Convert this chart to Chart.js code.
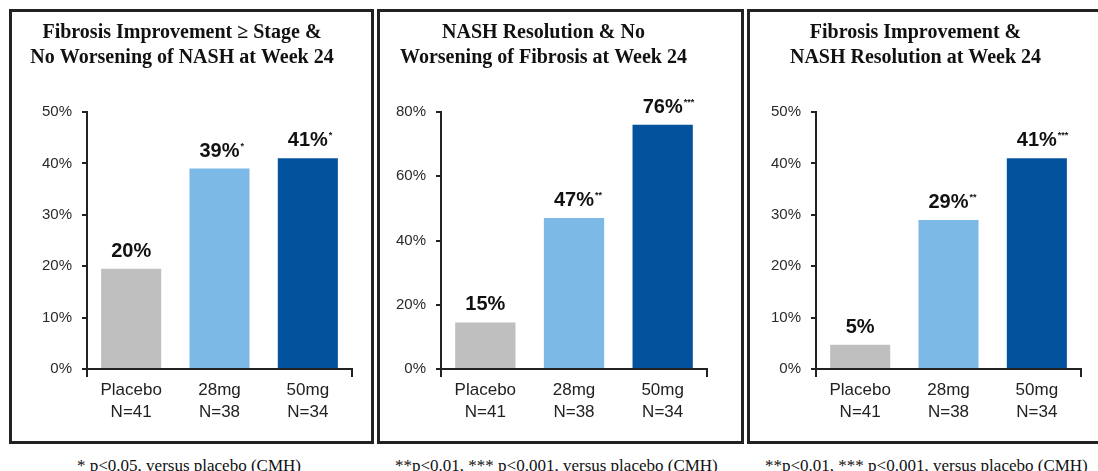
<!DOCTYPE html>
<html>
<head>
<meta charset="utf-8">
<script src="https://cdn.jsdelivr.net/npm/chart.js@4"></script>
<style>
  html, body { margin: 0; padding: 0; background: #fff; width: 1098px; height: 471px; overflow: hidden; position: relative; }
  .panel { position: absolute; border: 3px solid #222; box-sizing: border-box; background: #fff; }
  .panel canvas { display: block; }
  .foot { position: absolute; font-family: "Liberation Serif", "Times New Roman", serif; font-size: 17px; line-height: 20px; color: #111; white-space: nowrap; }
</style>
</head>
<body>
<div class="panel" id="p1" style="left:9px; top:9px; width:365px; height:435px;"><canvas id="c1"></canvas></div>
<div class="panel" id="p2" style="left:377px; top:9px; width:367px; height:435px;"><canvas id="c2"></canvas></div>
<div class="panel" id="p3" style="left:747px; top:9px; width:356px; height:435px;"><canvas id="c3"></canvas></div>
<div class="foot" style="left:77px; top:456px;">* p&lt;0.05, versus placebo (CMH)</div>
<div class="foot" style="left:395px; top:456px;">**p&lt;0.01, *** p&lt;0.001, versus placebo (CMH)</div>
<div class="foot" style="left:765px; top:456px;">**p&lt;0.01, *** p&lt;0.001, versus placebo (CMH)</div>
<script>
// ---- Data ----
const categories = [["Placebo", "N=41"], ["28mg", "N=38"], ["50mg", "N=34"]];
const barColors = ["#BFBFBF", "#7DB9E6", "#03529E"];

const title1 = ["Fibrosis Improvement \u2265 Stage &", "No Worsening of NASH at Week 24"];
const values1 = [19.5, 39, 41];
const valueLabels1 = ["20%", "39%", "41%"];
const sig1 = ["", "*", "*"];
const yMax1 = 50, yStep1 = 10;

const title2 = ["NASH Resolution & No", "Worsening of Fibrosis at Week 24"];
const values2 = [14.5, 47, 76];
const valueLabels2 = ["15%", "47%", "76%"];
const sig2 = ["", "**", "***"];
const yMax2 = 80, yStep2 = 20;

const title3 = ["Fibrosis Improvement &", "NASH Resolution at Week 24"];
const values3 = [4.7, 29, 41];
const valueLabels3 = ["5%", "29%", "41%"];
const sig3 = ["", "**", "***"];
const yMax3 = 50, yStep3 = 10;

// ---- Rendering ----
const SANS = "'Liberation Sans', Arial, sans-serif";
const SERIF = "'Liberation Serif', 'Times New Roman', serif";

const valueLabelPlugin = {
  id: 'valueLabels',
  afterDatasetsDraw(chart) {
    const opts = chart.options.plugins.valueLabels;
    const ctx = chart.ctx;
    const meta = chart.getDatasetMeta(0);
    meta.data.forEach((bar, i) => {
      const text = opts.labels[i];
      const base = bar.y - 12;
      ctx.save();
      ctx.fillStyle = '#111';
      ctx.font = "bold 20px " + SANS;
      ctx.textAlign = 'center';
      ctx.textBaseline = 'alphabetic';
      ctx.fillText(text, bar.x, base);
      const w = ctx.measureText(text).width;
      if (opts.sig[i]) {
        ctx.font = "bold 9px " + SANS;
        ctx.textAlign = 'left';
        ctx.textBaseline = 'top';
        ctx.fillText(opts.sig[i], bar.x + w / 2 + 1, base - 15);
      }
      ctx.restore();
    });
  }
};

function makeChart(id, w, h, title, values, labels, sig, yMax, yStep, yAxisWidth, rightPad) {
  const canvas = document.getElementById(id);
  canvas.width = w; canvas.height = h;
  canvas.style.width = w + 'px'; canvas.style.height = h + 'px';
  return new Chart(canvas, {
    type: 'bar',
    data: {
      labels: categories,
      datasets: [{
        data: values,
        backgroundColor: barColors,
        borderWidth: 0,
        categoryPercentage: 1.0,
        barPercentage: 0.68
      }]
    },
    options: {
      responsive: false,
      animation: false,
      devicePixelRatio: 1,
      layout: { padding: { left: 0, right: rightPad, top: 0, bottom: 0 } },
      plugins: {
        legend: { display: false },
        tooltip: { enabled: false },
        title: {
          display: true,
          text: title,
          color: '#111',
          font: { family: SERIF, size: 20, weight: 'bold', lineHeight: 1.25 },
          padding: { top: 8, bottom: 42 }
        },
        valueLabels: { labels: labels, sig: sig }
      },
      scales: {
        x: {
          afterFit: (s) => { s.height = h - 357; },
          grid: {
            display: true,
            drawOnChartArea: false,
            drawTicks: true,
            tickLength: 8,
            lineWidth: 2,
            color: (c) => (c.index === 0 || c.type === 'scale') ? '#222' : 'rgba(0,0,0,0)'
          },
          border: { display: true, color: '#222', width: 2 },
          ticks: {
            color: '#222',
            padding: 2,
            font: { family: SANS, size: 17, lineHeight: 1.3 }
          }
        },
        y: {
          min: 0,
          max: yMax,
          afterFit: (s) => { s.width = yAxisWidth; },
          grid: {
            display: true,
            drawOnChartArea: false,
            drawTicks: true,
            tickLength: 5,
            lineWidth: 2,
            color: '#222'
          },
          border: { display: true, color: '#222', width: 2 },
          ticks: {
            stepSize: yStep,
            color: '#2a2a2a',
            padding: 10,
            font: { family: SANS, size: 15 },
            callback: (v) => v + '%'
          }
        }
      }
    },
    plugins: [valueLabelPlugin]
  });
}

makeChart('c1', 359, 429, title1, values1, valueLabels1, sig1, yMax1, yStep1, 75, 19);
makeChart('c2', 361, 429, title2, values2, valueLabels2, sig2, yMax2, yStep2, 61, 34);
makeChart('c3', 350, 429, title3, values3, valueLabels3, sig3, yMax3, yStep3, 66, 19);
</script>
</body>
</html>
